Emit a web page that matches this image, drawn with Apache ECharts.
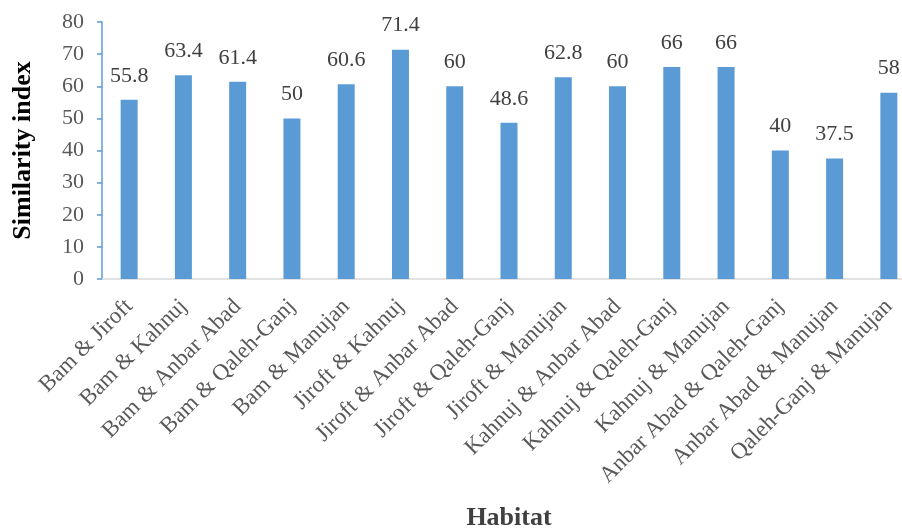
<!DOCTYPE html>
<html>
<head>
<meta charset="utf-8">
<script src="https://cdn.jsdelivr.net/npm/echarts@6/dist/echarts.min.js"></script>
<style>
  html, body { margin: 0; padding: 0; background: #fff; }
  #chart { width: 902px; height: 530px; }
</style>
</head>
<body>
<div id="chart"></div>
<script>
// Habitat pairs and their similarity index
const habitats = [
  'Bam & Jiroft', 'Bam & Kahnuj', 'Bam & Anbar Abad', 'Bam & Qaleh-Ganj',
  'Bam & Manujan', 'Jiroft & Kahnuj', 'Jiroft & Anbar Abad', 'Jiroft & Qaleh-Ganj',
  'Jiroft & Manujan', 'Kahnuj & Anbar Abad', 'Kahnuj & Qaleh-Ganj', 'Kahnuj & Manujan',
  'Anbar Abad & Qaleh-Ganj', 'Anbar Abad & Manujan', 'Qaleh-Ganj & Manujan'
];
const similarity = [55.8, 63.4, 61.4, 50, 60.6, 71.4, 60, 48.6, 62.8, 60, 66, 66, 40, 37.5, 58];
const yTicks = { min: 0, max: 80, interval: 10 };

const serif = '"Liberation Serif", "Times New Roman", serif';
const chart = echarts.init(document.getElementById('chart'), null, { renderer: 'canvas' });

chart.setOption({
  animation: false,
  // the category band runs slightly past the right edge of the canvas
  grid: { left: 102, top: 22, right: -14, bottom: 251, containLabel: false, outerBoundsMode: 'none' },
  xAxis: {
    type: 'category',
    data: habitats,
    name: 'Habitat',
    nameLocation: 'middle',
    nameGap: 226,
    nameMoveOverlap: false,
    nameTextStyle: { fontFamily: serif, fontSize: 26, fontWeight: 'bold', color: '#404040' },
    axisLine: { lineStyle: { color: '#d9d9d9', width: 1.5 } },
    axisTick: { show: false },
    axisLabel: {
      rotate: 45,
      interval: 0,
      margin: 24,
      fontFamily: serif,
      fontSize: 23,
      color: '#595959'
    }
  },
  yAxis: {
    type: 'value',
    min: yTicks.min,
    max: yTicks.max,
    interval: yTicks.interval,
    name: 'Similarity index',
    nameLocation: 'middle',
    nameGap: 66,
    nameMoveOverlap: false,
    nameTextStyle: { fontFamily: serif, fontSize: 26, fontWeight: 'bold', color: '#000' },
    axisLine: { show: true, lineStyle: { color: '#5b9bd5', width: 1.5 } },
    axisTick: { show: true, length: 5, lineStyle: { color: '#5b9bd5', width: 1.5 } },
    splitLine: { show: false },
    axisLabel: { fontFamily: serif, fontSize: 22, color: '#595959', margin: 18 }
  },
  series: [{
    type: 'bar',
    data: similarity,
    barWidth: 17,
    itemStyle: { color: '#5b9bd5' },
    label: {
      show: true,
      position: 'top',
      distance: 13,
      fontFamily: serif,
      fontSize: 22,
      color: '#404040'
    }
  }]
});
</script>
</body>
</html>
